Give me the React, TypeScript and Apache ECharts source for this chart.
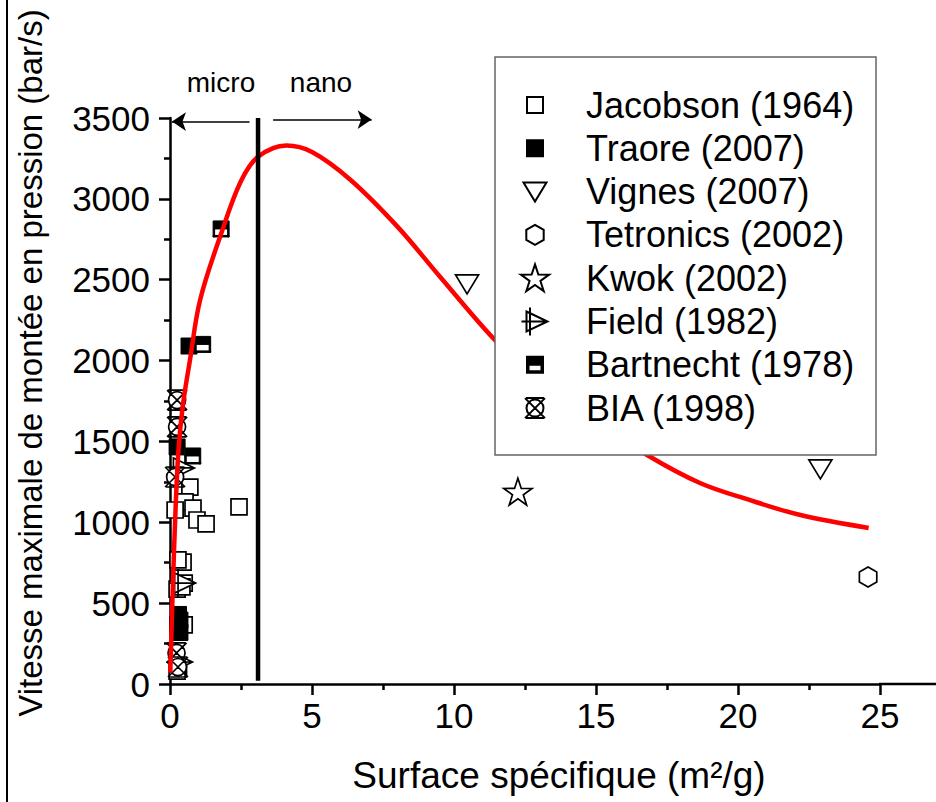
import React, { useEffect, useRef } from 'react';
import * as echarts from 'echarts';

const FONT = '"Liberation Sans", Arial, Helvetica, sans-serif';

// ---- data (surface spécifique m²/g, vitesse bar/s) ----
const jacobson = [
  [2.43, 1095], [0.7, 1218], [0.53, 1126], [0.81, 1088], [0.95, 1014], [1.27, 990],
  [0.18, 1076], [0.46, 754], [0.28, 767], [0.5, 624], [0.25, 587], [0.42, 600],
  [0.5, 365], [0.32, 320], [0.28, 365], [0.3, 95], [0.25, 80],
];
const traore = [[0.67, 2090], [0.25, 1466], [0.3, 430], [0.35, 395], [0.3, 355], [0.35, 320]];
const vignes = [[10.46, 2474], [22.9, 1330]];
const tetronics = [[24.58, 662]];
const kwok = [[12.25, 1187]];
const field = [[0.42, 1336], [0.46, 624], [0.35, 136]];
const bartnecht = [[1.8, 2814], [1.15, 2100], [0.8, 1410]];
const bia = [[0.25, 1756], [0.25, 1590], [0.18, 1280], [0.23, 192], [0.28, 105]];

const fitX = [0.01, 0.1, 0.2, 0.3, 0.45, 0.7, 1.06, 1.83, 2.5, 3.1, 4.1, 5, 6.34, 8, 9.5, 11.44, 13, 14.5, 16.8, 18.66, 20.4, 22.2, 24.6];
const fitY = [70, 600, 1100, 1450, 1720, 2000, 2375, 2800, 3110, 3260, 3330, 3290, 3120, 2830, 2520, 2127, 1870, 1680, 1416, 1243, 1138, 1045, 965];

const boundaryX = 3.1;
const boundaryY = [20, 3500];
const microArrow = { from: 2.8, to: 0.07, y: 3478 };
const nanoArrow = { from: 3.63, to: 7.1, y: 3490 };

const names = [
  'Jacobson (1964)', 'Traore (2007)', 'Vignes (2007)', 'Tetronics (2002)',
  'Kwok (2002)', 'Field (1982)', 'Bartnecht (1978)', 'BIA (1998)',
];

const xTicks = { min: 0, max: 25, interval: 5 };
const yTicks = { min: 0, max: 3500, interval: 500 };

// ---- symbols (30x30 frame) ----
const PAD = 'M-15 -15 M15 15 ';
const squarePath = 'path://' + PAD + 'M-8 -8 L8 -8 L8 8 L-8 8 Z';
const triDownPath = 'path://' + PAD + 'M-11.5 -9 L11.5 -9 L0 10 Z';
const hexPath = 'path://' + PAD + 'M0 -10 L8.7 -5 L8.7 5 L0 10 L-8.7 5 L-8.7 -5 Z';
const starPath = (() => {
  const R = 14.8, r = 5.7;
  let d = '';
  for (let k = 0; k < 10; k++) {
    const a = (-90 + k * 36) * Math.PI / 180;
    const rr = k % 2 === 0 ? R : r;
    d += (k === 0 ? 'M' : 'L') + (rr * Math.cos(a)).toFixed(2) + ' ' + (rr * Math.sin(a) + 1).toFixed(2) + ' ';
  }
  return 'path://' + PAD + d + 'Z';
})();
const fieldPath = 'path://' + PAD + 'M-8.5 -10 L12.5 0 L-8.5 10 Z M-5 -14 L-5 14 M-13.5 0 L12.5 0';
const bartPath = 'path://' + PAD +
  'M-8 -8 L8 -8 L8 0 L-8 0 Z M-8 0 L-6.5 0 L-6.5 8 L-8 8 Z M6.5 0 L8 0 L8 8 L6.5 8 Z M-8 6.5 L8 6.5 L8 8 L-8 8 Z';
const biaPath = 'path://' + PAD +
  'M-9 -10 L9 -10 M-9 10 L9 10 M-10 -10 L10 10 M10 -10 L-10 10 M-8.5 0 A8.5 8.5 0 1 0 8.5 0 A8.5 8.5 0 1 0 -8.5 0 Z';

const openStyle = { color: '#ffffff', borderColor: '#000000', borderWidth: 1.7, opacity: 1 };
const solidStyle = { color: '#000000', borderColor: '#000000', borderWidth: 1, opacity: 1 };

function scatter(name: string, data: number[][], symbol: string, itemStyle: any) {
  return {
    name, type: 'scatter', data, symbol, symbolSize: 30, itemStyle,
    emphasis: { disabled: true },
  };
}

export default function App() {
  const ref = useRef<HTMLDivElement>(null);
  useEffect(() => {
    if (!ref.current) return;
    const chart = echarts.init(ref.current, undefined, { renderer: 'svg' });
    const axisLine = { show: true, lineStyle: { color: '#000', width: 2.5 } };
    const axisTick = { show: true, inside: false, length: 11, lineStyle: { color: '#000', width: 2.5 } };
    const minorTick = { show: true, splitNumber: 2, length: 6, lineStyle: { color: '#000', width: 2.5 } };
    const axisLabel = { fontSize: 35, fontFamily: FONT, color: '#000', formatter: (v: number) => String(v) };
    const textStyle = (size: number) => ({ fontSize: size, fontFamily: FONT, fill: '#000' });
    chart.setOption({
      animation: false,
      backgroundColor: '#ffffff',
      grid: { left: 170, right: 56, top: 118, bottom: 118, containLabel: false },
      xAxis: {
        type: 'value', ...xTicks,
        axisLine, axisTick, minorTick,
        splitLine: { show: false }, minorSplitLine: { show: false },
        axisLabel: { ...axisLabel, margin: 14 },
      },
      yAxis: {
        type: 'value', ...yTicks,
        axisLine, axisTick, minorTick,
        splitLine: { show: false }, minorSplitLine: { show: false },
        axisLabel: { ...axisLabel, margin: 20 },
      },
      legend: {
        orient: 'vertical', left: 519, top: 87, padding: 0,
        itemWidth: 92, itemHeight: 30, itemGap: 7.3,
        data: names, selectedMode: false,
        textStyle: { fontSize: 36, fontFamily: FONT, color: '#000', lineHeight: 36 },
        z: 6,
      },
      series: [
        {
          name: 'fit', type: 'line', data: fitX.map((x, i) => [x, fitY[i]]),
          symbol: 'none', smooth: 0.35,
          lineStyle: { color: '#ff0000', width: 4.5 }, silent: true,
        },
        {
          name: 'boundary', type: 'line', data: boundaryY.map((y) => [boundaryX, y]),
          symbol: 'none', lineStyle: { color: '#000', width: 4.5 }, silent: true,
          markLine: {
            silent: true, symbol: ['none', 'arrow'], symbolSize: 14,
            label: { show: false },
            lineStyle: { color: '#000', width: 1.5, type: 'solid' },
            data: [
              [{ coord: [microArrow.from, microArrow.y] }, { coord: [microArrow.to, microArrow.y] }],
              [{ coord: [nanoArrow.from, nanoArrow.y] }, { coord: [nanoArrow.to, nanoArrow.y] }],
            ],
          },
        },
        scatter(names[0], jacobson, squarePath, openStyle),
        scatter(names[1], traore, squarePath, solidStyle),
        scatter(names[2], vignes, triDownPath, openStyle),
        scatter(names[3], tetronics, hexPath, openStyle),
        scatter(names[4], kwok, starPath, openStyle),
        scatter(names[5], field, fieldPath, openStyle),
        scatter(names[7], bia, biaPath, openStyle),
        {
          name: 'bartnechtBg', type: 'scatter', data: bartnecht, symbol: 'rect', symbolSize: 16,
          itemStyle: { color: '#fff', borderWidth: 0, opacity: 1 }, silent: true,
        },
        scatter(names[6], bartnecht, bartPath, solidStyle),
      ],
      graphic: [
        {
          type: 'rect', z: 5, shape: { x: 495, y: 57, width: 381, height: 398 },
          style: { fill: '#ffffff', stroke: '#666666', lineWidth: 1.5 },
        },
        { type: 'line', z: 5, shape: { x1: 879, y1: 684, x2: 936, y2: 684 }, style: { stroke: '#000', lineWidth: 2.5 } },
        { type: 'line', z: 5, shape: { x1: 7, y1: 0, x2: 7, y2: 802 }, style: { stroke: '#000', lineWidth: 2 } },
        {
          type: 'text', x: 221, y: 82, z: 5,
          style: { text: 'micro', ...textStyle(28), align: 'center', verticalAlign: 'middle', textAlign: 'center', textVerticalAlign: 'middle' },
        },
        {
          type: 'text', x: 321, y: 82, z: 5,
          style: { text: 'nano', ...textStyle(28), align: 'center', verticalAlign: 'middle', textAlign: 'center', textVerticalAlign: 'middle' },
        },
        {
          type: 'text', x: 559, y: 775, z: 5,
          style: { text: 'Surface spécifique (m²/g)', ...textStyle(37), align: 'center', verticalAlign: 'middle', textAlign: 'center', textVerticalAlign: 'middle' },
        },
        {
          type: 'text', x: 30, y: 363, z: 5, rotation: Math.PI / 2,
          style: { text: 'Vitesse maximale de montée en pression (bar/s)', ...textStyle(33), align: 'center', verticalAlign: 'middle', textAlign: 'center', textVerticalAlign: 'middle' },
        },
      ],
    });
    return () => chart.dispose();
  }, []);
  return <div ref={ref} style={{ position: 'fixed', left: 0, top: 0, width: 936, height: 802, background: '#fff' }} />;
}
